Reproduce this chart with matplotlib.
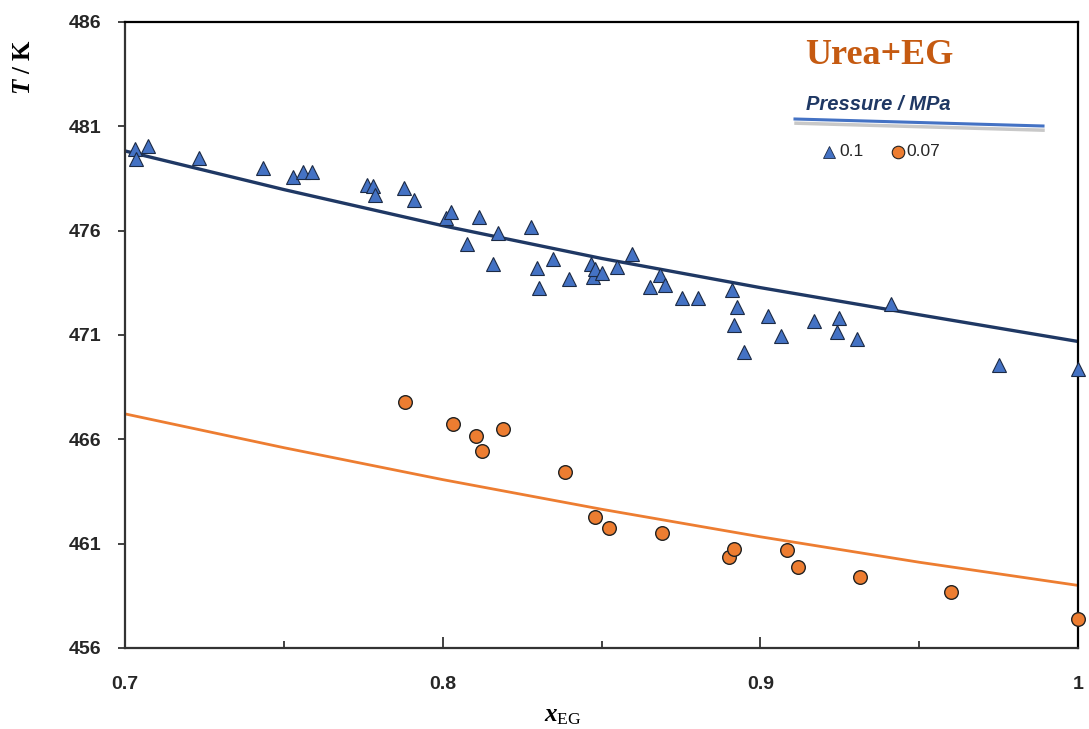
import numpy as np
import matplotlib
matplotlib.use("Agg")
import matplotlib.pyplot as plt
from matplotlib.lines import Line2D

# ---------------- data ----------------
# measured points, P = 0.1 MPa
x_p01 = [0.7031, 0.7035, 0.7071, 0.7233, 0.7433, 0.7528, 0.7559, 0.7590, 0.7761, 0.7782,
         0.7788, 0.7879, 0.7911, 0.8011, 0.8026, 0.8076, 0.8113, 0.8159, 0.8175, 0.8277,
         0.8298, 0.8304, 0.8346, 0.8398, 0.8467, 0.8472, 0.8478, 0.8503, 0.8550, 0.8597,
         0.8653, 0.8685, 0.8700, 0.8753, 0.8804, 0.8912, 0.8926, 0.8917, 0.8950, 0.9025,
         0.9064, 0.9170, 0.9248, 0.9240, 0.9305, 0.9412, 0.9750, 1.0000]
T_p01 = [479.90, 479.42, 480.06, 479.47, 478.99, 478.56, 478.80, 478.80, 478.19, 478.14,
         477.71, 478.03, 477.47, 476.59, 476.91, 475.36, 476.67, 474.40, 475.90, 476.16,
         474.21, 473.24, 474.66, 473.69, 474.39, 473.77, 474.15, 473.96, 474.25, 474.88,
         473.29, 473.88, 473.40, 472.76, 472.76, 473.16, 472.36, 471.48, 470.20, 471.93,
         470.95, 471.69, 471.80, 471.13, 470.80, 472.47, 469.54, 469.35]

# measured points, P = 0.07 MPa
x_p007 = [0.7881, 0.8033, 0.8106, 0.8124, 0.8189, 0.8386, 0.8480, 0.8524, 0.8689,
          0.8901, 0.8917, 0.9083, 0.9119, 0.9314, 0.9600, 1.0000]
T_p007 = [467.78, 466.74, 466.18, 465.43, 466.51, 464.45, 462.27, 461.77, 461.52,
          460.35, 460.76, 460.70, 459.89, 459.39, 458.67, 457.39]

# model curves
x_fit = [0.70, 0.75, 0.80, 0.85, 0.90, 0.95, 1.00]
T_fit_p01 = [479.82, 477.97, 476.24, 474.67, 473.27, 471.97, 470.69]
T_fit_p007 = [467.22, 465.60, 464.07, 462.65, 461.33, 460.11, 459.00]

x_ticks = [0.7, 0.8, 0.9, 1.0]
x_tick_labels = ["0.7", "0.8", "0.9", "1"]
y_ticks = [456, 461, 466, 471, 476, 481, 486]

legend_labels = ["0.1", "0.07"]

# ---------------- style ----------------
blue = "#4472C4"
navy = "#1F3864"
orange = "#ED7D31"
title_col = "#C55A11"

plt.rcParams["mathtext.fontset"] = "custom"
plt.rcParams["mathtext.it"] = "Liberation Serif:italic:bold"
plt.rcParams["mathtext.rm"] = "Liberation Serif"

W, H = 1089, 729
fig = plt.figure(figsize=(W / 100, H / 100), dpi=100)


def px(x, y):
    # pixel position -> figure fraction
    return x / W, 1 - y / H


l, t = px(125, 22)
r, b = px(1078, 648)
ax = fig.add_axes([l, b, r - l, t - b])

ax.plot(x_fit, T_fit_p01, color=navy, lw=2.4, zorder=2)
ax.plot(x_fit, T_fit_p007, color=orange, lw=2.0, zorder=2)

ax.plot(x_p01, T_p01, ls="none", marker="^", ms=10, mfc=blue, mec="#1c2a44",
        mew=0.8, zorder=3, clip_on=False)
ax.plot(x_p007, T_p007, ls="none", marker="o", ms=9.8, mfc=orange, mec="#222222",
        mew=1.0, zorder=3, clip_on=False)

ax.set_xlim(0.7, 1.0)
ax.set_ylim(456, 486)
ax.set_xticks(x_ticks)
ax.set_xticklabels(x_tick_labels)
ax.set_xticks([0.75, 0.85, 0.95], minor=True)
ax.set_yticks(y_ticks)

for s in ax.spines.values():
    s.set_linewidth(1.6)
    s.set_color("#333333")
ax.spines["top"].set_color("black")
ax.spines["right"].set_color("black")

ax.tick_params(axis="x", which="major", direction="in", length=8, width=1.3,
               color="#333333", pad=20)
ax.tick_params(axis="x", which="minor", direction="in", length=5, width=1.3,
               color="#333333")
ax.tick_params(axis="y", direction="out", length=5, width=1.3, color="#333333", pad=12)
for lab in ax.get_xticklabels() + ax.get_yticklabels():
    lab.set_fontfamily("Liberation Sans")
    lab.set_fontweight("bold")
    lab.set_fontsize(14)
    lab.set_color("#262626")

# axis titles
fig.text(*px(563, 715), r"$x_{\mathrm{EG}}$", ha="center", va="center",
         fontsize=18, family="Liberation Serif", fontweight="bold")
fig.text(*px(23, 67), r"$T$ / K", ha="center", va="center", rotation=90,
         fontsize=18, family="Liberation Serif", fontweight="bold")

# system name and pressure legend
fig.text(*px(879, 55), "Urea+EG", ha="center", va="center", fontsize=26,
         family="Liberation Serif", fontweight="bold", color=title_col)
fig.text(*px(878, 104), "Pressure / MPa", ha="center", va="center", fontsize=14.5,
         family="Liberation Sans", fontweight="bold", style="italic", color=navy)
x0, y0 = px(796, 121)
x1, y1 = px(1043, 128)
fig.add_artist(Line2D([x0, x1], [y0 - 0.003, y1 - 0.003], color="#c8c8c8", lw=2.5,
                      transform=fig.transFigure))
x0, y0 = px(795, 119)
x1, y1 = px(1043, 126)
fig.add_artist(Line2D([x0, x1], [y0, y1], color=blue, lw=2.2, transform=fig.transFigure))

mx, my = px(829, 152)
fig.add_artist(Line2D([mx], [my], marker="^", ms=8.5, mfc=blue, mec="#1c2a44", mew=0.6,
                      ls="none", transform=fig.transFigure))
fig.text(*px(839, 152), legend_labels[0], ha="left", va="center", fontsize=12.5,
         family="Liberation Sans", color="#262626")
mx, my = px(898, 152)
fig.add_artist(Line2D([mx], [my], marker="o", ms=9, mfc=orange, mec="#222222", mew=0.8,
                      ls="none", transform=fig.transFigure))
fig.text(*px(906, 152), legend_labels[1], ha="left", va="center", fontsize=12.5,
         family="Liberation Sans", color="#262626")

fig.savefig("out.png", dpi=100)
